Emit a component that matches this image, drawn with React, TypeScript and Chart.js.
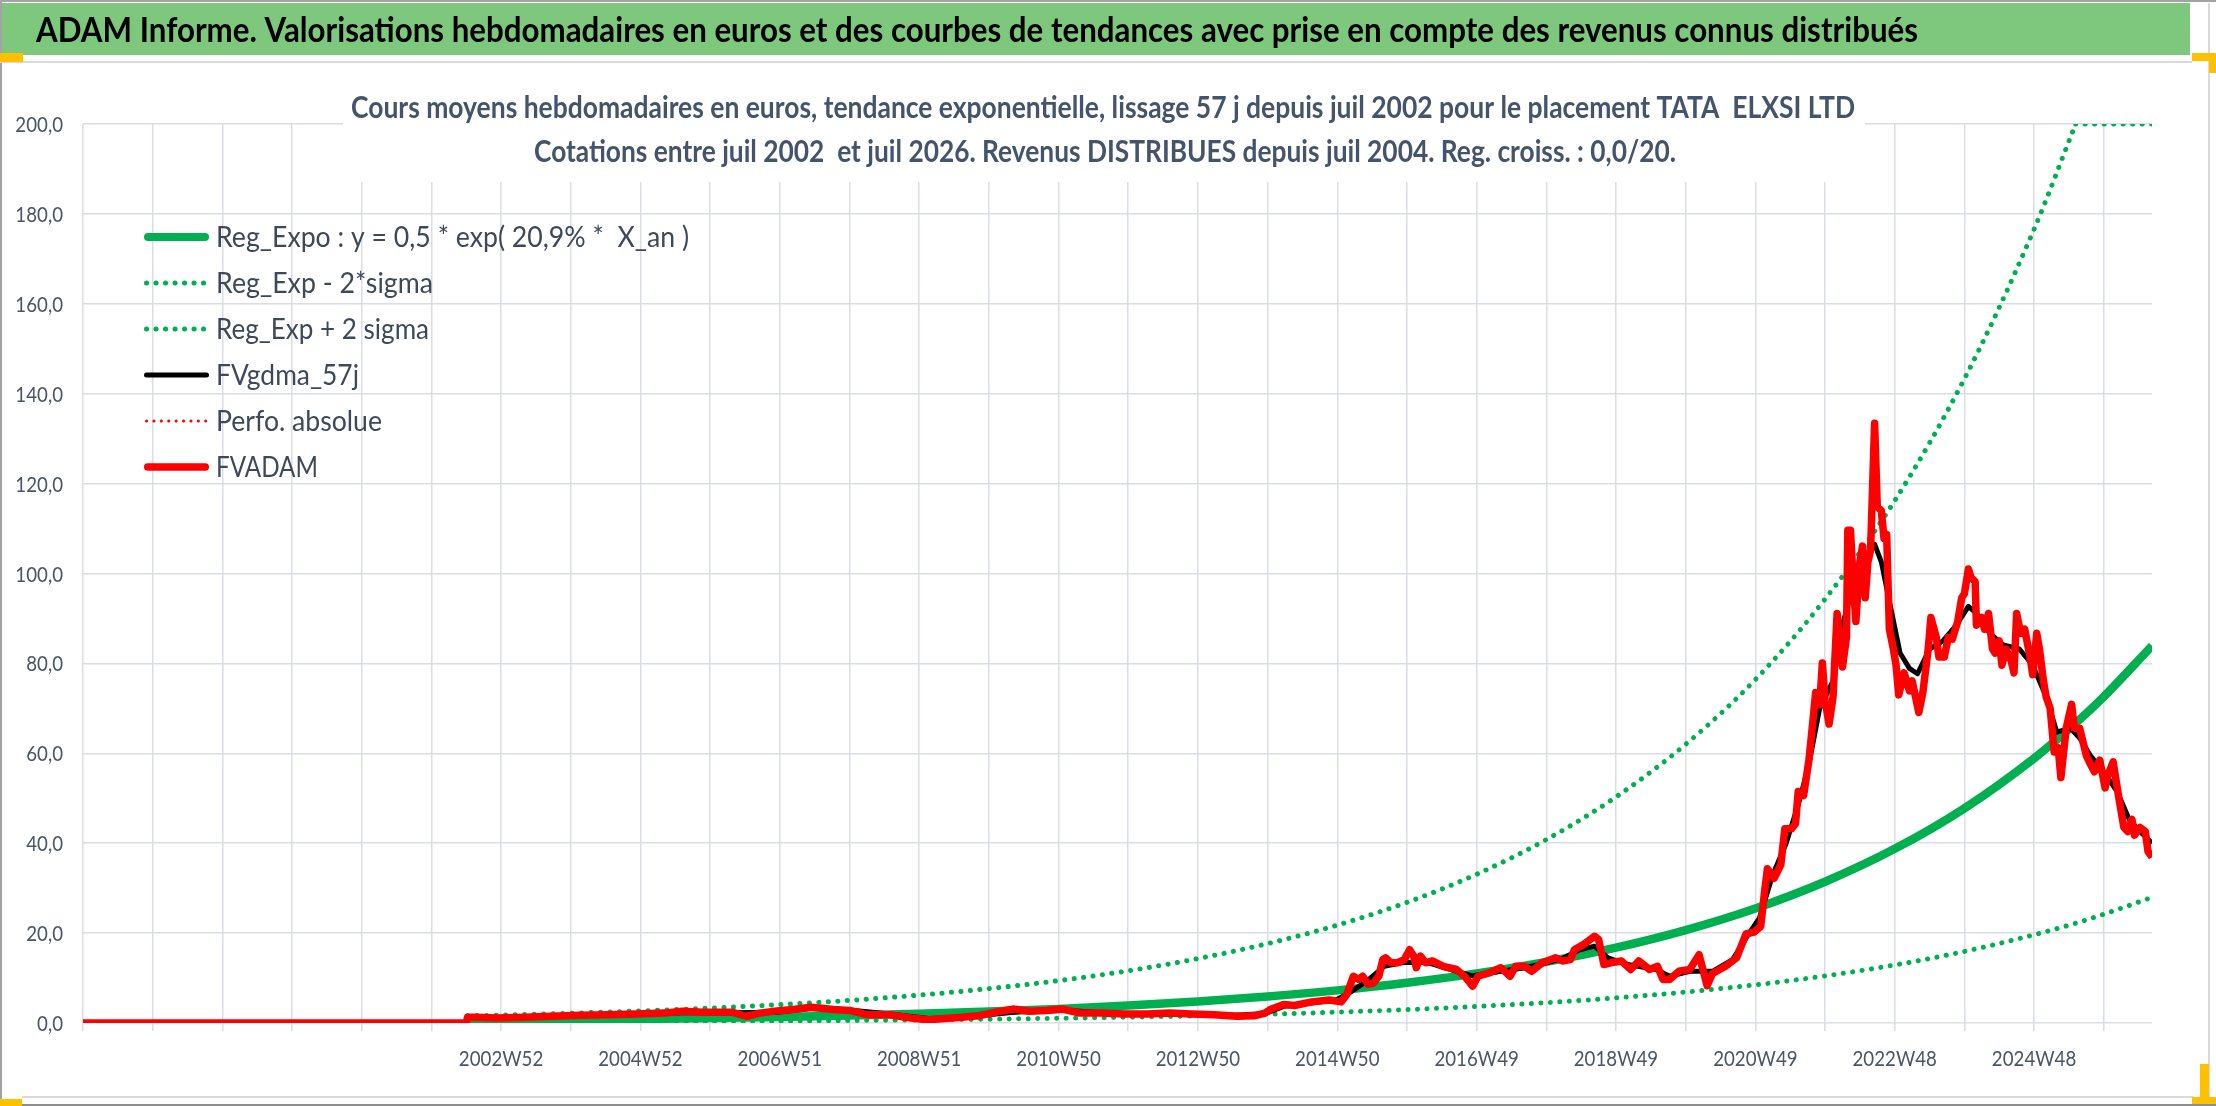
import React, { useEffect, useRef } from 'react';
import { Chart, registerables } from 'chart.js';

Chart.register(...registerables);

// ---------- Texts ----------
const headerTitle =
  'ADAM Informe. Valorisations hebdomadaires en euros et des courbes de tendances avec prise en compte des revenus connus distribués';
const subtitleLines = [
  'Cours moyens hebdomadaires en euros, tendance exponentielle, lissage 57 j depuis juil 2002 pour le placement TATA  ELXSI LTD',
  'Cotations entre juil 2002  et juil 2026. Revenus DISTRIBUES depuis juil 2004. Reg. croiss. : 0,0/20.',
];
const seriesLabels = [
  'Reg_Expo : y = 0,5 * exp( 20,9% *  X_an )',
  'Reg_Exp - 2*sigma',
  'Reg_Exp + 2 sigma',
  'FVgdma_57j',
  'Perfo. absolue',
  'FVADAM',
];

// ---------- X axis: one tick every 52 weeks, labels every other tick ----------
const xTickLabels = [
  '', '', '', '', '', '', '2002W52', '', '2004W52', '',
  '2006W51', '', '2008W51', '', '2010W50', '', '2012W50', '', '2014W50', '',
  '2016W49', '', '2018W49', '', '2020W49', '', '2022W48', '', '2024W48', '',
];
const weeksPerTick = 52;
const lastWeek = 1544;

// ---------- Y axis ----------
const yMin = 0;
const yMax = 200;
const yStep = 20;

// ---------- Series: FVADAM (weekly valuation) ----------
const fvadamWeeks = [
  0, 286, 287, 292, 309, 330, 350, 371, 392, 413,
  434, 447, 463, 484, 495, 505, 518, 530, 543, 551,
  560, 572, 585, 602, 618, 631, 643, 656, 668, 681,
  694, 706, 719, 731, 744, 760, 777, 794, 811, 827,
  844, 861, 874, 882, 886, 896, 904, 917, 930, 939,
  943, 948, 952, 955, 959, 963, 967, 970, 972, 976,
  981, 986, 990, 993, 995, 998, 1002, 1007, 1015, 1025,
  1031, 1037, 1041, 1050, 1058, 1065, 1069, 1076, 1081, 1089,
  1099, 1104, 1110, 1113, 1120, 1128, 1131, 1135, 1140, 1148,
  1155, 1161, 1169, 1175, 1179, 1184, 1191, 1199, 1206, 1212,
  1216, 1226, 1234, 1241, 1247, 1252, 1255, 1257, 1262, 1267,
  1270, 1275, 1278, 1280, 1284, 1288, 1291, 1293, 1296, 1298,
  1300, 1303, 1306, 1309, 1311, 1313, 1316, 1317, 1319, 1321,
  1323, 1326, 1328, 1330, 1332, 1334, 1337, 1339, 1342, 1344,
  1346, 1348, 1351, 1353, 1355, 1359, 1363, 1365, 1370, 1373,
  1377, 1379, 1383, 1385, 1389, 1392, 1395, 1399, 1402, 1404,
  1407, 1409, 1412, 1413, 1417, 1419, 1422, 1425, 1427, 1430,
  1432, 1435, 1439, 1441, 1443, 1446, 1449, 1453, 1455, 1458,
  1460, 1463, 1465, 1468, 1471, 1474, 1476, 1480, 1484, 1486,
  1490, 1495, 1498, 1501, 1505, 1509, 1511, 1515, 1519, 1523,
  1526, 1529, 1531, 1535, 1539, 1541, 1544,
];
const fvadamValues = [
  0, 0, 1.3, 1.3, 1.1, 1.3, 1.5, 1.7, 1.85, 2.0,
  2.2, 2.6, 2.4, 2.4, 1.5, 2.2, 2.7, 3.0, 3.5, 3.3,
  3.0, 2.8, 1.85, 1.85, 1.1, 0.7, 1.0, 1.3, 1.6, 2.4,
  3.1, 2.6, 2.8, 3.1, 2.2, 2.2, 2.0, 2.0, 2.2, 2.0,
  1.85, 1.5, 1.6, 2.2, 3.0, 4.1, 3.9, 4.7, 5.1, 4.7,
  6.3, 10.4, 9.7, 10.4, 8.6, 8.9, 10.4, 14.1, 14.5, 13.4,
  13.4, 14.1, 16.3, 14.9, 12.3, 14.9, 13.4, 13.8, 12.6, 11.9,
  10.4, 8.2, 10.4, 11.2, 12.3, 10.4, 12.6, 12.6, 11.5, 13.4,
  14.5, 13.8, 14.1, 16.3, 17.5, 19.3, 18.6, 13.0, 13.4, 13.8,
  11.9, 13.8, 11.9, 12.6, 9.7, 9.7, 11.5, 11.9, 15.2, 8.3,
  11.0, 12.7, 14.5, 19.8, 20.2, 21.5, 29.5, 34.3, 32.2, 35.2,
  43.2, 43.2, 44.4, 51.5, 50.6, 58.5, 67.3, 73.5, 70.8, 80.1,
  71.8, 66.5, 72.6, 91.1, 85.8, 79.2, 85.8, 109.6, 109.6, 98.2,
  89.3, 102.6, 106.1, 94.6, 102.6, 105.2, 133.4, 114.9, 114.0, 107.8,
  108.7, 87.6, 83.2, 79.6, 73.0, 77.9, 73.9, 76.1, 69.1, 73.5,
  83.2, 90.2, 85.8, 81.4, 81.4, 85.8, 85.4, 89.3, 94.6, 95.5,
  101.0, 99.1, 98.2, 88.5, 90.2, 87.6, 91.1, 83.2, 82.3, 85.0,
  79.6, 83.2, 80.5, 77.9, 91.1, 86.7, 87.6, 81.4, 77.5, 86.7,
  83.2, 76.1, 72.6, 70.0, 60.3, 61.2, 54.6, 65.6, 70.9, 65.6,
  65.6, 59.5, 57.6, 55.9, 58.5, 52.3, 55.0, 58.1, 50.6, 43.5,
  42.6, 45.3, 41.8, 43.5, 42.6, 38.2, 36.9,
];

// ---------- Series: FVgdma_57j (smoothed) ----------
const gdmaWeeks = [
  287, 330, 371, 413, 447, 484, 518, 543, 572, 602,
  631, 656, 681, 706, 731, 760, 794, 827, 861, 882,
  896, 935, 945, 958, 971, 986, 1004, 1025, 1037, 1050,
  1076, 1102, 1117, 1128, 1138, 1153, 1174, 1184, 1199, 1216,
  1231, 1243, 1251, 1261, 1271, 1281, 1288, 1296, 1306, 1313,
  1321, 1331, 1337, 1342, 1348, 1356, 1363, 1369, 1378, 1388,
  1398, 1407, 1413, 1423, 1433, 1445, 1455, 1465, 1473, 1483,
  1490, 1498, 1508, 1518, 1527, 1535, 1544,
];
const gdmaValues = [
  1.2, 1.25, 1.6, 1.9, 2.3, 2.3, 2.4, 3.2, 2.9, 2.0,
  1.0, 1.2, 2.0, 2.7, 2.9, 2.3, 2.0, 2.1, 1.7, 2.1,
  3.7, 5.1, 6.7, 9.3, 12.6, 13.5, 13.4, 11.5, 10.5, 11.2,
  12.3, 14.1, 16.3, 17.1, 14.5, 13.0, 11.9, 10.4, 11.5, 11.5,
  14.1, 19.8, 23.3, 33.0, 40.0, 49.6, 57.6, 70.0, 76.1, 88.5,
  97.3, 103.4, 106.5, 102.6, 93.8, 82.3, 78.9, 77.7, 83.2, 85.0,
  88.5, 92.7, 91.1, 86.7, 84.1, 83.2, 79.6, 72.6, 64.7, 65.6,
  63.4, 59.5, 55.9, 51.5, 45.3, 42.6, 40.0,
];

// ---------- Series: regression curves (read yearly) ----------
const regWeeks = [
  287, 312, 364, 416, 468, 520, 572, 624, 676, 728,
  780, 832, 884, 936, 988, 1040, 1092, 1144, 1196, 1248,
  1300, 1352, 1404, 1456, 1487, 1508, 1544,
];
const regExpo = [
  0.53, 0.59, 0.73, 0.89, 1.10, 1.36, 1.68, 2.07, 2.55, 3.14,
  3.87, 4.77, 5.89, 7.26, 8.95, 11.03, 13.60, 16.76, 20.67, 25.48,
  31.42, 38.74, 47.76, 58.88, 66.7, 72.6, 83.9,
];
const regMinus = [
  0.18, 0.20, 0.24, 0.30, 0.37, 0.45, 0.56, 0.69, 0.85, 1.05,
  1.29, 1.59, 1.96, 2.42, 2.98, 3.68, 4.53, 5.59, 6.89, 8.49,
  10.47, 12.91, 15.92, 19.63, 22.2, 24.2, 27.96,
];
const regPlus = [
  1.6, 1.77, 2.18, 2.68, 3.31, 4.08, 5.03, 6.20, 7.64, 9.42,
  11.61, 14.32, 17.66, 21.77, 26.84, 33.09, 40.80, 50.29, 62.0, 76.4,
  94.3, 116.2, 143.3, 176.6, 200, 200, 200,
];

// ---------- Styles ----------
const GREEN = '#00B050';
const RED = '#FF0000';
const BLACK = '#000000';
const GRID = '#DADDE4';
const TICK_COLOR = '#4A5567';
const SUB_COLOR = '#44546A';
const LEGEND_COLOR = '#3E4858';
const HEADER_GREEN = '#7DC87C';
const HANDLE = '#FFC000';
const TICK_FONT = '22px Lato';
const TICK_SX = 0.85;
const LEGEND_WIDTHS = [473, 217, 213, 143, 166, 102];

function pts(xs: number[], ys: number[]) {
  return xs.map((x, i) => ({ x, y: ys[i] }));
}

function fitText(
  ctx: CanvasRenderingContext2D,
  text: string,
  x: number,
  baseline: number,
  font: string,
  color: string,
  targetWidth: number
) {
  ctx.save();
  ctx.font = font;
  ctx.fillStyle = color;
  ctx.textBaseline = 'alphabetic';
  ctx.textAlign = 'left';
  const w = ctx.measureText(text).width || 1;
  ctx.translate(x, baseline);
  ctx.scale(targetWidth / w, 1);
  ctx.fillText(text, 0, 0);
  ctx.restore();
}

function squeezedText(
  ctx: CanvasRenderingContext2D,
  text: string,
  x: number,
  baseline: number,
  align: CanvasTextAlign
) {
  if (!text) return;
  ctx.save();
  ctx.font = TICK_FONT;
  ctx.fillStyle = TICK_COLOR;
  ctx.textBaseline = 'alphabetic';
  ctx.textAlign = align;
  ctx.translate(x, baseline);
  ctx.scale(TICK_SX, 1);
  ctx.fillText(text, 0, 0);
  ctx.restore();
}

const decorPlugin = {
  id: 'decor',
  beforeDraw(chart: any) {
    const { ctx, width, height } = chart;
    ctx.save();
    ctx.fillStyle = '#FFFFFF';
    ctx.fillRect(0, 0, width, height);
    // header bar
    ctx.fillStyle = HEADER_GREEN;
    ctx.fillRect(0, 3, 2190, 52);
    // frame
    ctx.fillStyle = '#A3A3A3';
    ctx.fillRect(0, 0, width, 2);
    ctx.fillRect(0, 0, 2, height);
    ctx.fillStyle = '#DADADA';
    ctx.fillRect(0, 61, 2192, 2);
    ctx.fillRect(2208, 3, 2, height - 6);
    ctx.fillRect(22, 1096, 2172, 2);
    ctx.fillStyle = '#8E8E8E';
    ctx.fillRect(0, height - 2, width, 2);
    // selection handles
    ctx.fillStyle = HANDLE;
    ctx.fillRect(0, 53, 23, 9);
    ctx.fillRect(2192, 53, 24, 8);
    ctx.fillRect(2209, 53, 7, 20);
    ctx.fillRect(0, 1099, 22, 7);
    ctx.fillRect(2200, 1064, 9, 40);
    ctx.fillRect(2192, 1097, 24, 7);
    ctx.restore();
    fitText(ctx, headerTitle, 36, 42, 'bold 35px Lato', '#000000', 1882);
  },
  beforeDatasetsDraw(chart: any) {
    const { ctx } = chart;
    ctx.save();
    ctx.fillStyle = '#FFFFFF';
    ctx.fillRect(343, 80, 1522, 102);
    ctx.restore();
    fitText(ctx, subtitleLines[0], 351, 118, 'bold 31px Lato', SUB_COLOR, 1504);
    fitText(ctx, subtitleLines[1], 534, 162, 'bold 31px Lato', SUB_COLOR, 1142);
  },
  afterDraw(chart: any) {
    const { ctx } = chart;
    // axis tick labels (narrow, tall lettering as in the reference)
    const xs = chart.scales.x;
    xs.ticks.forEach((t: any, i: number) => {
      squeezedText(ctx, String(t.label ?? ''), xs.getPixelForValue(t.value), 1066, 'center');
    });
    const ys = chart.scales.y;
    ys.ticks.forEach((t: any) => {
      squeezedText(ctx, String(t.label ?? ''), 63, ys.getPixelForValue(t.value) + 8, 'right');
    });
    // legend
    const items = chart.data.datasets.filter((d: any) => d.label);
    items.forEach((ds: any, i: number) => {
      const y = 237 + i * 46;
      const dashed = Array.isArray(ds.borderDash) && ds.borderDash.length > 0;
      ctx.save();
      ctx.strokeStyle = ds.borderColor;
      ctx.lineWidth = Math.min(ds.borderWidth, 8);
      ctx.setLineDash(dashed ? ds.borderDash : []);
      ctx.lineCap = 'round';
      ctx.beginPath();
      if (dashed) {
        ctx.moveTo(146.5, y);
        ctx.lineTo(206.6, y);
      } else {
        const half = Math.min(ds.borderWidth, 8) / 2;
        ctx.moveTo(144 + half, y);
        ctx.lineTo(209 - half, y);
      }
      ctx.stroke();
      ctx.restore();
      fitText(ctx, ds.label, 216, y + 10, '29px Lato', LEGEND_COLOR, LEGEND_WIDTHS[i]);
    });
  },
};

export default function App() {
  const ref = useRef<HTMLCanvasElement>(null);

  useEffect(() => {
    const canvas = ref.current;
    if (!canvas) return;
    const capIdx = regPlus.indexOf(200);
    const dots = [0.1, 9.4];
    const chart = new Chart(canvas, {
      type: 'line',
      data: {
        datasets: [
          {
            label: seriesLabels[0],
            data: pts(regWeeks, regExpo),
            borderColor: GREEN,
            borderWidth: 8.5,
            cubicInterpolationMode: 'monotone',
            order: 5,
          },
          {
            label: seriesLabels[1],
            data: pts(regWeeks, regMinus),
            borderColor: GREEN,
            borderWidth: 5,
            borderDash: dots,
            borderCapStyle: 'round',
            cubicInterpolationMode: 'monotone',
            order: 4,
          },
          {
            label: seriesLabels[2],
            data: pts(regWeeks.slice(0, capIdx + 1), regPlus.slice(0, capIdx + 1)),
            borderColor: GREEN,
            borderWidth: 5,
            borderDash: dots,
            borderCapStyle: 'round',
            cubicInterpolationMode: 'monotone',
            order: 3,
          },
          {
            label: seriesLabels[3],
            data: pts(gdmaWeeks, gdmaValues),
            borderColor: BLACK,
            borderWidth: 5,
            order: 2,
          },
          {
            label: seriesLabels[4],
            data: pts(fvadamWeeks, fvadamValues),
            borderColor: RED,
            borderWidth: 3,
            borderDash: [0.1, 7.3],
            borderCapStyle: 'round',
            order: 1,
          },
          {
            label: seriesLabels[5],
            data: pts(fvadamWeeks, fvadamValues),
            borderColor: RED,
            borderWidth: 7.5,
            order: 0,
          },
          {
            label: '',
            data: pts(regWeeks.slice(capIdx), regPlus.slice(capIdx)),
            borderColor: GREEN,
            borderWidth: 5,
            borderDash: dots,
            borderCapStyle: 'round',
            order: 3,
          },
        ] as any,
      },
      options: {
        animation: false,
        responsive: false,
        events: [],
        layout: { padding: { top: 124, right: 64, bottom: 0, left: 0 } },
        elements: {
          point: { radius: 0, hitRadius: 0, hoverRadius: 0 },
          line: { tension: 0, borderJoinStyle: 'round', fill: false },
        },
        plugins: {
          legend: { display: false },
          tooltip: { enabled: false },
          title: { display: false },
        },
        scales: {
          x: {
            type: 'linear',
            min: 0,
            max: lastWeek,
            afterBuildTicks: (scale: any) => {
              scale.ticks = xTickLabels.map((_, k) => ({ value: k * weeksPerTick }));
            },
            afterFit: (scale: any) => {
              scale.height = 83;
            },
            ticks: {
              display: false,
              autoSkip: false,
              maxRotation: 0,
              minRotation: 0,
              callback: (_v: any, i: number) => xTickLabels[i] ?? '',
            },
            grid: {
              color: GRID,
              lineWidth: 1.5,
              drawTicks: true,
              tickLength: 8,
              tickColor: GRID,
            },
            border: { display: false },
          },
          y: {
            min: yMin,
            max: yMax,
            afterFit: (scale: any) => {
              scale.width = 83;
            },
            ticks: {
              display: false,
              stepSize: yStep,
              callback: (v: any) => Number(v).toFixed(1).replace('.', ','),
            },
            grid: { color: GRID, lineWidth: 1.5, drawTicks: false },
            border: { display: false },
          },
        },
      } as any,
      plugins: [decorPlugin as any],
    });
    return () => chart.destroy();
  }, []);

  return (
    <div style={{ position: 'absolute', left: 0, top: 0, width: 2216, height: 1106 }}>
      <canvas
        ref={ref}
        width={2216}
        height={1106}
        style={{ display: 'block', width: 2216, height: 1106 }}
      />
    </div>
  );
}
